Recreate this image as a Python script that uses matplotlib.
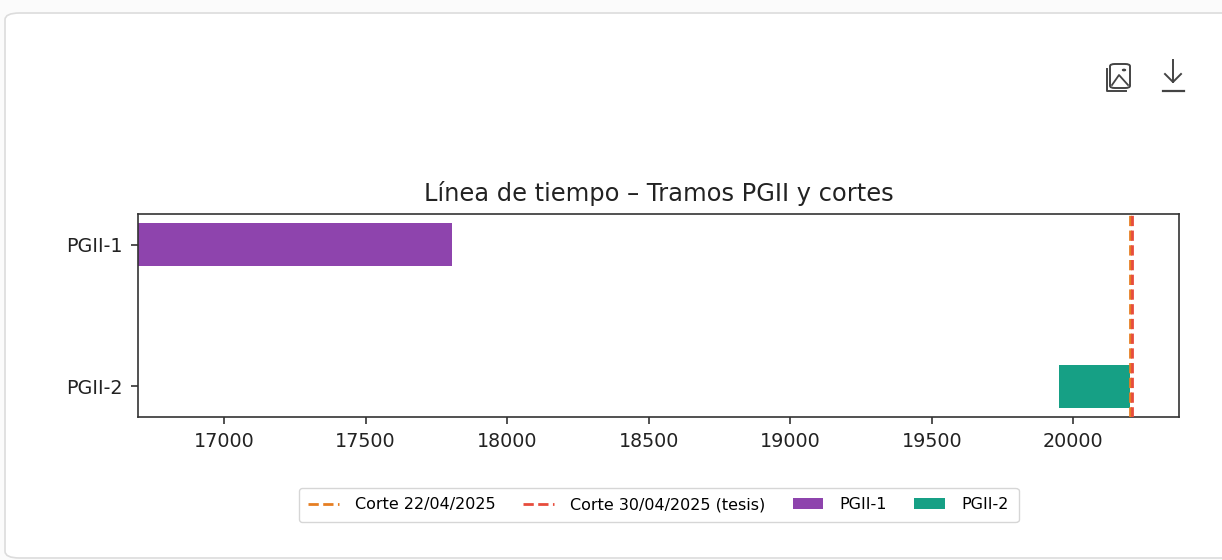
import matplotlib
matplotlib.use("Agg")
import matplotlib.pyplot as plt
from matplotlib.patches import FancyBboxPatch, Circle
from matplotlib.lines import Line2D

# ---- data ----
tramos = ["PGII-1", "PGII-2"]
inicio = [16697, 19950]
fin = [17805, 20200]
colores_tramos = ["#8e44ad", "#16a085"]

cortes = [20200, 20208]
etiquetas_cortes = ["Corte 22/04/2025", "Corte 30/04/2025 (tesis)"]
colores_cortes = ["#e67e22", "#e74c3c"]

titulo = "Línea de tiempo – Tramos PGII y cortes"
xlim_der = 20373

W, H = 1222, 560
fig = plt.figure(figsize=(W / 100, H / 100), dpi=100)
fig.patch.set_facecolor("#fbfbfb")

def fx(x):
    return x / W

def fy(y):
    return 1 - y / H

# card background
card = FancyBboxPatch((fx(5), fy(558)), fx(1260) - fx(5), fy(13) - fy(558),
                      boxstyle="round,pad=0,rounding_size=0.012",
                      transform=fig.transFigure, facecolor="white",
                      edgecolor="#dcdcdc", linewidth=1.2, zorder=-10)
fig.add_artist(card)

# icons (image + download)
ic = "#444444"
fig.add_artist(FancyBboxPatch((fx(1110), fy(88)), fx(1130) - fx(1110), fy(64) - fy(88),
                              boxstyle="round,pad=0,rounding_size=0.004",
                              transform=fig.transFigure, facecolor="none",
                              edgecolor=ic, linewidth=1.4, zorder=-5))
fig.add_artist(Line2D([fx(1107), fx(1107), fx(1126)], [fy(69), fy(91), fy(91)],
                      transform=fig.transFigure, color=ic, lw=1.4, zorder=-5))
fig.add_artist(Line2D([fx(1112), fx(1119), fx(1128)], [fy(85), fy(75), fy(85)],
                      transform=fig.transFigure, color=ic, lw=1.3, zorder=-5))
fig.add_artist(Circle((fx(1124), fy(70)), 0.0012, transform=fig.transFigure,
                      color=ic, zorder=-5))
fig.add_artist(Line2D([fx(1173), fx(1173)], [fy(60), fy(82)],
                      transform=fig.transFigure, color=ic, lw=1.4, zorder=-5))
fig.add_artist(Line2D([fx(1165), fx(1173), fx(1181)], [fy(74), fy(82), fy(74)],
                      transform=fig.transFigure, color=ic, lw=1.4, zorder=-5))
fig.add_artist(Line2D([fx(1163), fx(1184)], [fy(91), fy(91)],
                      transform=fig.transFigure, color=ic, lw=1.6, zorder=-5))

ax = fig.add_axes([fx(138.3), fy(417), fx(1179) - fx(138.3), fy(214) - fy(417)],
                  zorder=5)

for xc, lab, col in zip(cortes, etiquetas_cortes, colores_cortes):
    ax.axvline(xc, color=col, linestyle="--", linewidth=2, label=lab, zorder=3)

ypos = list(range(len(tramos)))
dur = [f - i for i, f in zip(inicio, fin)]
for y, i, d, col, lab in zip(ypos, inicio, dur, colores_tramos, tramos):
    ax.barh(y, d, left=i, height=0.3, color=col, label=lab, zorder=2)

ax.set_yticks(ypos)
ax.set_yticklabels(tramos)
ax.invert_yaxis()
ax.set_xlim(inicio[0], xlim_der)

ax.tick_params(labelsize=13.8, length=5, width=1.1, pad=6, colors="#222222")
for s in ax.spines.values():
    s.set_linewidth(1.2)
    s.set_color("#333333")
ax.set_title(titulo, fontsize=17.4, pad=9, color="#222222")

ax.legend(loc="upper center", bbox_to_anchor=(0.5, -0.31), ncol=4,
          fontsize=11.5, frameon=True, handlelength=1.9, handletextpad=1.05,
          columnspacing=1.7, borderpad=0.6)

fig.savefig("out.png", dpi=100, facecolor=fig.get_facecolor())
